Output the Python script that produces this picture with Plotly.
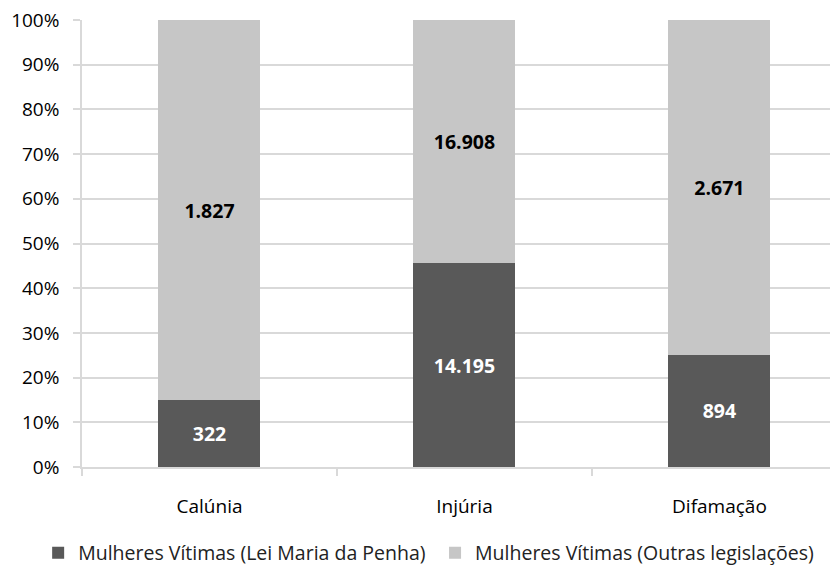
import plotly.graph_objects as go

categories = ["Calúnia", "Injúria", "Difamação"]
lei_maria_da_penha = [322, 14195, 894]
outras_legislacoes = [1827, 16908, 2671]
series_names = ["Mulheres Vítimas (Lei Maria da Penha)", "Mulheres Vítimas (Outras legislações)"]
y_tick_values = [0, 10, 20, 30, 40, 50, 60, 70, 80, 90, 100]
y_tick_labels = [f"{v}%" for v in y_tick_values]

FONT = "Open Sans"
fig = go.Figure()
fig.add_trace(go.Bar(
    x=categories, y=lei_maria_da_penha, name=series_names[0],
    marker=dict(color="#595959", line=dict(width=0)),
    text=lei_maria_da_penha, texttemplate="%{text:,d}",
    textposition="inside", insidetextanchor="middle",
    textfont=dict(family=FONT, size=19.5, color="white", weight="bold"),
    width=0.4, legend="legend",
))
fig.add_trace(go.Bar(
    x=categories, y=outras_legislacoes, name=series_names[1],
    marker=dict(color="#C6C6C6", line=dict(width=0)),
    text=outras_legislacoes, texttemplate="%{text:,d}",
    textposition="inside", insidetextanchor="middle",
    textfont=dict(family=FONT, size=19.5, color="black", weight="bold"),
    width=0.4, legend="legend2",
))
legend_common = dict(orientation="h", y=-0.1924, yanchor="middle", xanchor="left",
                     font=dict(family=FONT, size=19.5, color="#222"),
                     bgcolor="rgba(0,0,0,0)", borderwidth=0)
fig.update_layout(
    barmode="stack", barnorm="percent", separators=",.",
    width=838, height=573,
    margin=dict(l=74, r=8, t=12, b=114),
    paper_bgcolor="white", plot_bgcolor="white",
    font=dict(family=FONT, size=19, color="black"),
    legend=dict(x=-0.058, **legend_common),
    legend2=dict(x=0.467, **legend_common),
    showlegend=True,
)
fig.update_xaxes(
    range=[-0.5, 2.465], showline=True, linecolor="#D9D9D9", linewidth=1.5,
    ticks="outside", ticklen=7, tickcolor="#D9D9D9", tickwidth=1.5,
    tickson="boundaries", showgrid=False, ticklabelstandoff=21,
    tickfont=dict(family=FONT, size=19), automargin=False,
)
fig.update_yaxes(
    range=[0, 100], tickmode="array", tickvals=y_tick_values, ticktext=y_tick_labels,
    showline=True, linecolor="#D9D9D9", linewidth=1.5,
    ticks="outside", ticklen=7, tickcolor="#D9D9D9", tickwidth=1.5,
    showgrid=True, gridcolor="#D9D9D9", gridwidth=1.5, zeroline=False,
    ticklabelstandoff=10, tickfont=dict(family=FONT, size=19), automargin=False,
    ticklabeloverflow="allow",
)
fig.write_html("out.html")
